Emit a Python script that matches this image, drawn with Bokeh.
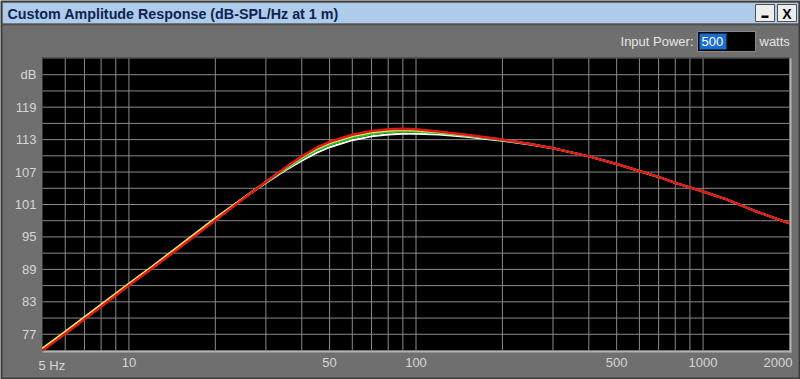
import math
from bokeh.plotting import figure
from bokeh.models import Range1d, LinearScale
from bokeh.core.properties import value
from bokeh.embed import file_html
from bokeh.resources import INLINE

# ---------------- data ----------------
FREQ_HZ = [5, 6, 7, 8, 10, 12, 15, 20, 25, 30, 35, 40, 45, 50, 60, 70, 80, 90,
           100, 120, 150, 200, 250, 300, 400, 500, 600, 700, 800, 1000, 1200,
           1500, 2000]

SPL_RED = [74.0, 77.1, 79.8, 82.1, 86.0, 89.1, 93.0, 98.1, 102.0, 105.2, 107.8,
           109.9, 111.5, 112.6, 113.9, 114.6, 114.9, 115.0, 114.9, 114.5, 113.9,
           113.0, 112.2, 111.4, 109.9, 108.5, 107.2, 106.1, 105.0, 103.4, 102.0,
           99.9, 97.5]
SPL_YELLOW = [74.4, 77.5, 80.2, 82.5, 86.4, 89.5, 93.4, 98.5, 102.2, 105.2, 107.65,
              109.7, 111.25, 112.3, 113.6, 114.3, 114.65, 114.8, 114.7, 114.35, 113.8,
              113.0, 112.2, 111.4, 109.9, 108.5, 107.2, 106.1, 105.0, 103.4, 102.0,
              99.9, 97.5]
SPL_GREEN = [74.3, 77.4, 80.1, 82.4, 86.3, 89.4, 93.3, 98.4, 102.15, 105.1, 107.5,
             109.45, 110.95, 112.0, 113.3, 114.0, 114.35, 114.5, 114.45, 114.2, 113.7,
             112.9, 112.2, 111.4, 109.9, 108.5, 107.2, 106.1, 105.0, 103.4, 102.0,
             99.9, 97.5]
SPL_WHITE = [74.2, 77.3, 80.0, 82.3, 86.2, 89.3, 93.2, 98.3, 102.1, 105.0, 107.3,
             109.1, 110.55, 111.6, 112.9, 113.6, 113.95, 114.1, 114.1, 113.95, 113.55,
             112.8, 112.1, 111.4, 109.9, 108.5, 107.2, 106.1, 105.0, 103.4, 102.0,
             99.9, 97.5]

X_TICKS = [10, 50, 100, 500, 1000]
X_TICK_LABELS = ["10", "50", "100", "500", "1000"]
X_END_TICKS = [5, 2000]
X_END_LABELS = ["5 Hz", "2000"]
X_GRID = [6, 7, 8, 9, 10, 20, 30, 40, 50, 60, 70, 80, 90, 100,
          200, 300, 400, 500, 600, 700, 800, 900, 1000]
Y_TICKS = [77, 83, 89, 95, 101, 107, 113, 119, 125]
Y_TICK_LABELS = ["77", "83", "89", "95", "101", "107", "113", "119", "dB"]
Y_GRID = [77, 80, 83, 86, 89, 92, 95, 98, 101, 104, 107, 110, 113, 116, 119, 122, 125]
X_MIN, X_MAX = 5, 2000
Y_MIN, Y_MAX = 74, 128

TITLE = "Custom Amplitude Response (dB-SPL/Hz at 1 m)"
POWER_LABEL = "Input Power:"
POWER_VALUE = "500"
POWER_UNIT = "watts"

# ---------------- layout (pixels of the 800x379 window) ----------------
W, H = 800, 379
PL, PR, PT, PB = 42, 789, 58, 350      # plot-area edges

FONT = value("Liberation Sans")
LABEL_COLOR = "#d6d6d6"

# data ranges extended so that the plot area sits at PL..PR / PT..PB
kx = (math.log10(X_MAX) - math.log10(X_MIN)) / (PR - PL)
x_start = 10 ** (math.log10(X_MIN) - PL * kx)
x_end = 10 ** (math.log10(X_MAX) + (W - PR) * kx)
ky = (Y_MAX - Y_MIN) / (PB - PT)
y_start = Y_MIN - (H - PB) * ky
y_end = Y_MAX + PT * ky

p = figure(width=W, height=H, x_axis_type="log",
           x_range=Range1d(x_start, x_end), y_range=Range1d(y_start, y_end),
           x_axis_location=None, y_axis_location=None,
           output_backend="svg", toolbar_location=None, tools="",
           min_border=0, background_fill_color="#6f6f6f",
           border_fill_color="#6f6f6f", outline_line_color=None)
for g in p.grid:
    g.visible = False

# pixel coordinate system for the window chrome
p.extra_x_ranges = {"px": Range1d(0, W)}
p.extra_y_ranges = {"py": Range1d(H, 0)}
p.extra_x_scales = {"px": LinearScale()}
p.extra_y_scales = {"py": LinearScale()}
PX = dict(x_range_name="px", y_range_name="py")

# window frame and title bar
p.quad(left=[2], right=[798], top=[2], bottom=[23], fill_color="#aecbea",
       line_color=None, **PX)
p.quad(left=[2], right=[798], top=[23], bottom=[25], fill_color="#505050",
       line_color=None, **PX)
p.quad(left=[1], right=[799], top=[1], bottom=[378], fill_alpha=0,
       line_color="#3c3c3c", line_width=2, **PX)
p.text(x=[7], y=[13], text=[TITLE], text_baseline="middle",
       text_font=FONT, text_font_style="bold", text_font_size="14.3px",
       text_color="#0c2352", **PX)

# minimise / close buttons
p.quad(left=[755, 777], right=[774, 796], top=[4, 4], bottom=[21, 21],
       fill_color="#ededed", line_color="#505050", line_width=1, **PX)
p.quad(left=[761], right=[768], top=[15], bottom=[17.5], fill_color="#000000",
       line_color=None, **PX)
p.text(x=[786.5], y=[13], text=["X"], text_align="center", text_baseline="middle",
       text_font=FONT, text_font_style="bold", text_font_size="14px",
       text_color="#000000", **PX)

# input power box
p.quad(left=[697], right=[755], top=[31], bottom=[51], fill_color="#000000",
       line_color="#8a8a8a", line_width=1, **PX)
p.quad(left=[699], right=[726], top=[33], bottom=[49], fill_color="#1a6ccc",
       line_color=None, **PX)
p.text(x=[693], y=[41], text=[POWER_LABEL], text_align="right", text_baseline="middle",
       text_font=FONT, text_font_size="13px", text_color="#e4e4e4", **PX)
p.text(x=[701], y=[41], text=[POWER_VALUE], text_baseline="middle",
       text_font=FONT, text_font_size="13px", text_color="#ffffff", **PX)
p.text(x=[759], y=[41], text=[POWER_UNIT], text_baseline="middle",
       text_font=FONT, text_font_size="13px", text_color="#e4e4e4", **PX)

# plot area (black) with bevel
p.quad(left=[X_MIN], right=[X_MAX], bottom=[Y_MIN], top=[Y_MAX],
       fill_color="#000000", line_color=None)
p.quad(left=[PL], right=[PR + 2], top=[PB], bottom=[PB + 2], fill_color="#b4b4b4",
       line_color=None, **PX)
p.quad(left=[PR], right=[PR + 2], top=[PT], bottom=[PB + 2], fill_color="#b4b4b4",
       line_color=None, **PX)
p.quad(left=[PL - 1], right=[PR], top=[PT - 1], bottom=[PT], fill_color="#3a3a3a",
       line_color=None, **PX)

# grid
p.segment(x0=X_GRID, x1=X_GRID, y0=[Y_MIN] * len(X_GRID), y1=[Y_MAX] * len(X_GRID),
          line_color="#8a8a8a", line_width=1)
p.segment(x0=[X_MIN] * len(Y_GRID), x1=[X_MAX] * len(Y_GRID), y0=Y_GRID, y1=Y_GRID,
          line_color="#8a8a8a", line_width=1)

# curves
p.line(FREQ_HZ, SPL_WHITE, line_color="#ffffff", line_width=2)
p.line(FREQ_HZ, SPL_GREEN, line_color="#22c022", line_width=2)
p.line(FREQ_HZ, SPL_YELLOW, line_color="#eee46a", line_width=2)
p.line(FREQ_HZ, SPL_RED, line_color="#dd1a16", line_width=2.5)

# tick labels
p.text(x=[X_MIN] * len(Y_TICKS), y=Y_TICKS, text=Y_TICK_LABELS, x_offset=-6,
       text_align="right", text_baseline="middle", text_font=FONT,
       text_font_size="13px", text_color=LABEL_COLOR)
p.text(x=X_TICKS, y=[Y_MIN] * len(X_TICKS), text=X_TICK_LABELS, y_offset=7,
       text_align="center", text_baseline="top", text_font=FONT,
       text_font_size="13px", text_color=LABEL_COLOR)
p.text(x=[X_END_TICKS[0]], y=[Y_MIN], text=[X_END_LABELS[0]], x_offset=-4, y_offset=7,
       text_align="left", text_baseline="top", text_font=FONT,
       text_font_size="13px", text_color=LABEL_COLOR)
p.text(x=[X_END_TICKS[1]], y=[Y_MIN], text=[X_END_LABELS[1]], x_offset=3, y_offset=7,
       text_align="right", text_baseline="top", text_font=FONT,
       text_font_size="13px", text_color=LABEL_COLOR)

open("out.html", "w").write(file_html(p, INLINE))
